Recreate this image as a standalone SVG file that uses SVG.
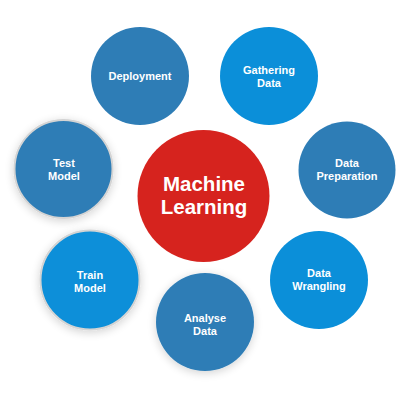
<svg xmlns="http://www.w3.org/2000/svg" width="400" height="400" viewBox="0 0 400 400">
<style>
.dark{fill:#2E7DB6}
.bright{fill:#0B8FD9}
.red{fill:#D6231E}
.ring{stroke:#D4D4D4;stroke-width:2}
.lbl{font-family:"Liberation Sans",Arial,sans-serif;font-weight:bold;font-size:11px;fill:#FFFFFF;text-anchor:middle}
.big{font-family:"Liberation Sans",Arial,sans-serif;font-weight:bold;font-size:20.5px;fill:#FFFFFF;text-anchor:middle}
</style>
<defs>
<filter id="shadow" x="-40%" y="-40%" width="180%" height="180%">
<feGaussianBlur in="SourceAlpha" stdDeviation="5"/>
<feOffset dx="0" dy="2" result="b"/>
<feComponentTransfer><feFuncA type="linear" slope="0.18"/></feComponentTransfer>
<feMerge><feMergeNode/><feMergeNode in="SourceGraphic"/></feMerge>
</filter>
</defs>
<rect width="400" height="400" fill="#FFFFFF"/>
<g id="connectors"></g>
<g id="deployment">
<circle class="dark" cx="140" cy="76" r="49"/>
<text class="lbl" x="140" y="79.5">Deployment</text>
</g>
<g id="gathering-data">
<circle class="bright" cx="269" cy="76" r="49"/>
<text class="lbl" x="269" y="74">Gathering</text>
<text class="lbl" x="269" y="87">Data</text>
</g>
<g id="data-preparation">
<circle class="dark" cx="347" cy="170" r="48.5"/>
<text class="lbl" x="347" y="167">Data</text>
<text class="lbl" x="347" y="180">Preparation</text>
</g>
<g id="test-model">
<circle class="dark ring" cx="63.5" cy="169" r="49" filter="url(#shadow)"/>
<text class="lbl" x="64" y="167">Test</text>
<text class="lbl" x="64" y="180">Model</text>
</g>
<g id="train-model">
<circle class="bright ring" cx="90" cy="280" r="49.5" filter="url(#shadow)"/>
<text class="lbl" x="90" y="279">Train</text>
<text class="lbl" x="90" y="292">Model</text>
</g>
<g id="analyse-data">
<circle class="dark" cx="205" cy="322" r="49" filter="url(#shadow)"/>
<text class="lbl" x="205" y="322">Analyse</text>
<text class="lbl" x="205" y="335">Data</text>
</g>
<g id="data-wrangling">
<circle class="bright" cx="319" cy="280" r="49"/>
<text class="lbl" x="319" y="277">Data</text>
<text class="lbl" x="319" y="290">Wrangling</text>
</g>
<g id="machine-learning">
<circle class="red" cx="203.5" cy="196" r="66"/>
<text class="big" x="204" y="191">Machine</text>
<text class="big" x="204" y="214">Learning</text>
</g>
</svg>
